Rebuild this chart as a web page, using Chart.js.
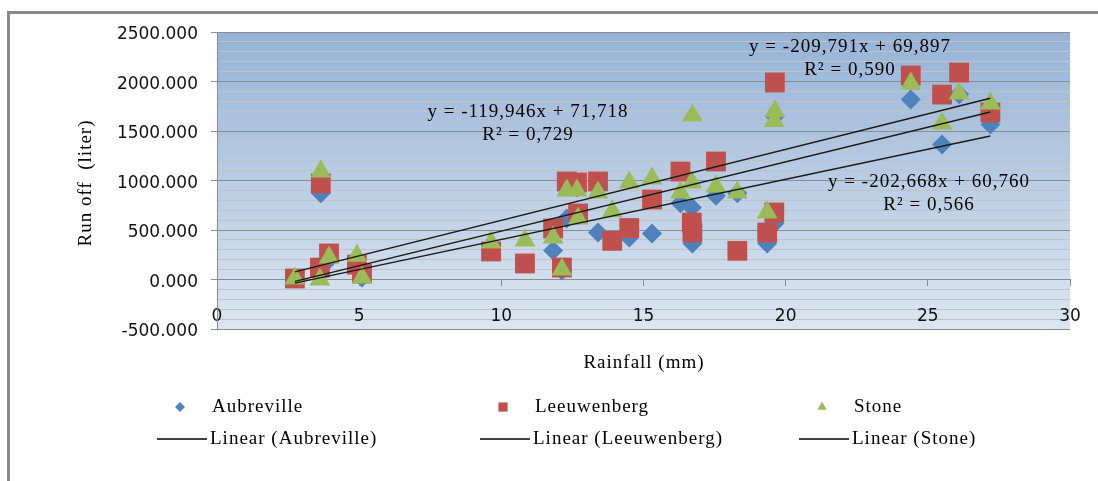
<!DOCTYPE html>
<html>
<head>
<meta charset="utf-8">
<script src="https://cdn.jsdelivr.net/npm/chart.js@4.4.0/dist/chart.umd.min.js"></script>
<style>
  html, body { margin: 0; padding: 0; background: #fff; }
  #wrap { position: relative; width: 1098px; height: 481px; overflow: hidden; }
  #frame { position: absolute; left: 7px; top: 11px; width: 1200px; height: 600px;
           border-top: 3px solid #8a8a8a; border-left: 3px solid #8a8a8a; }
  canvas { position: absolute; left: 0; top: 0; }
</style>
</head>
<body>
<div id="wrap">
  <div id="frame"></div>
  <canvas id="chart" width="1098" height="481"></canvas>
</div>
<script>
// rainfall (mm) per event, and run off (liter) for each plot
const rainfall    = [2.74, 3.62, 3.65, 3.94, 4.92, 5.10, 9.64, 10.83, 11.82, 12.13, 12.30, 12.66, 12.70, 13.40, 13.90,
                     14.50, 15.30, 16.30, 16.70, 16.72, 17.55, 18.30, 19.35, 19.60, 19.62, 24.40, 25.50, 26.10, 27.20];
const aubreville  = [10, 50, 870, 200, 130, 20, 290, 160, 293, 90, 616, 930, 650, 475, 400,
                     424, 465, 770, 727, 364, 845, 870, 364, 566, 1650, 1818, 1364, 1870, 1566];
const leeuwenberg = [10, 120, 970, 263, 150, 60, 283, 162, 515, 121, 990, 980, 667, 990, 390,
                     520, 808, 1090, 575, 475, 1192, 290, 475, 677, 1990, 2060, 1868, 2090, 1687];
const stone       = [10, 0, 1090, 222, 240, 20, 374, 394, 424, 101, 900, 900, 616, 880, 690,
                     980, 1020, 880, 980, 1656, 940, 880, 677, 1600, 1700, 1980, 1576, 1880, 1778];

const seriesNames  = ["Aubreville", "Leeuwenberg", "Stone"];
const seriesColors = ["#4F81BD", "#C0504D", "#9BBB59"];
// linear trend lines, as drawn (slope, intercept)
const trendSlope     = [60.760, 69.897, 71.718];
const trendIntercept = [-202.668, -209.791, -119.946];
// trend line labels as printed on the chart
const trendLabels = [
  ["y = -202,668x + 60,760", "R² = 0,566"],
  ["y = -209,791x + 69,897", "R² = 0,590"],
  ["y = -119,946x + 71,718", "R² = 0,729"]
];
const xTitle = "Rainfall (mm)";
const yTitle = "Run off  (liter)";

const serif = "'Liberation Serif', 'Times New Roman', serif";
const xMin = Math.min(...rainfall), xMax = Math.max(...rainfall);
const seriesValues = [aubreville, leeuwenberg, stone];
const styles = ["rectRot", "rect", "triangle"];
const radii = [10, 14, 12];

const datasets = [];
seriesNames.forEach(function (name, i) {
  datasets.push({
    label: name,
    data: rainfall.map(function (x, k) { return { x: x, y: seriesValues[i][k] }; }),
    pointStyle: styles[i],
    pointRadius: radii[i],
    backgroundColor: seriesColors[i],
    borderColor: seriesColors[i],
    borderWidth: 0,
    order: 4 - i
  });
});
seriesNames.forEach(function (name, i) {
  datasets.push({
    label: "Linear (" + name + ")",
    data: [xMin, xMax].map(function (x) { return { x: x, y: trendSlope[i] * x + trendIntercept[i] }; }),
    showLine: true,
    pointRadius: 0,
    borderColor: "#1a1a1a",
    borderWidth: 1.4,
    order: 0
  });
});

const background = {
  id: "background",
  beforeDraw(chart) {
    const { ctx, chartArea: a } = chart;
    const g = ctx.createLinearGradient(0, a.top, 0, a.bottom);
    g.addColorStop(0, "#95B3D7");
    g.addColorStop(1, "#DCE6F2");
    ctx.save();
    ctx.fillStyle = g;
    ctx.fillRect(a.left, a.top, a.right - a.left, a.bottom - a.top);
    ctx.restore();
  }
};

const texts = {
  id: "texts",
  afterDraw(chart) {
    const ctx = chart.ctx;
    ctx.save();
    ctx.letterSpacing = "1px";
    ctx.fillStyle = "#000";
    ctx.font = "19px " + serif;
    ctx.textAlign = "center";
    ctx.textBaseline = "middle";

    // trend equations
    const eqPos = [[929, 182], [850, 47], [528, 112]];
    trendLabels.forEach(function (lines, i) {
      ctx.fillText(lines[0], eqPos[i][0], eqPos[i][1]);
      ctx.fillText(lines[1], eqPos[i][0], eqPos[i][1] + 23);
    });

    // axis titles
    ctx.fillText(xTitle, 644, 363);
    ctx.save();
    ctx.translate(86, 183);
    ctx.rotate(-Math.PI / 2);
    ctx.fillText(yTitle, 0, 0);
    ctx.restore();

    // legend
    ctx.textAlign = "left";
    const colX = [180, 503, 822];
    const legendRadii = [5, 6.5, 5.5];
    seriesNames.forEach(function (name, i) {
      ctx.fillStyle = seriesColors[i];
      Chart.helpers.drawPoint(ctx, { pointStyle: styles[i], radius: legendRadii[i], borderWidth: 0, rotation: 0 }, colX[i], 407);
      ctx.fillStyle = "#000";
      ctx.fillText(name, colX[i] + 32, 407);

      const lx = colX[i] - 23;
      ctx.strokeStyle = "#000";
      ctx.lineWidth = 1.3;
      ctx.beginPath();
      ctx.moveTo(lx, 439);
      ctx.lineTo(lx + 50, 439);
      ctx.stroke();
      ctx.fillText("Linear (" + name + ")", lx + 53, 439);
    });
    ctx.restore();
  }
};

new Chart(document.getElementById("chart"), {
  type: "scatter",
  data: { datasets: datasets },
  plugins: [background, texts],
  options: {
    responsive: false,
    devicePixelRatio: 1,
    animation: false,
    events: [],
    layout: { padding: { top: 32, right: 28, bottom: 152, left: 0 } },
    plugins: { legend: { display: false }, tooltip: { enabled: false } },
    scales: {
      x: {
        type: "linear",
        position: { y: 0 },
        min: 0,
        max: 30,
        afterFit(scale) { scale.paddingLeft = 0; scale.paddingRight = 0; },
        ticks: { stepSize: 5, padding: 21, color: "#111", font: { family: "'DejaVu Sans'", size: 17 } },
        grid: { drawOnChartArea: false, drawTicks: true, tickLength: 6, tickColor: "#8c8c8c" },
        border: { display: true, color: "#8c8c8c", width: 1 }
      },
      y: {
        min: -500,
        max: 2500,
        afterFit(scale) { scale.width = 217; },
        ticks: {
          stepSize: 100,
          maxTicksLimit: 40,
          autoSkip: false,
          padding: 13,
          labelOffset: 3,
          color: "#111",
          font: { family: "'DejaVu Sans'", size: 17 },
          callback: function (v) { return v % 500 === 0 ? v.toFixed(3) : ""; }
        },
        grid: {
          color: function (c) { return c.tick.value % 500 === 0 ? "#8c8c8c" : "#c2c2c2"; },
          tickColor: function (c) { return c.tick.value % 500 === 0 ? "#8c8c8c" : "rgba(0,0,0,0)"; },
          tickLength: 6
        },
        border: { display: true, color: "#8c8c8c", width: 1 }
      }
    }
  }
});
</script>
</body>
</html>
